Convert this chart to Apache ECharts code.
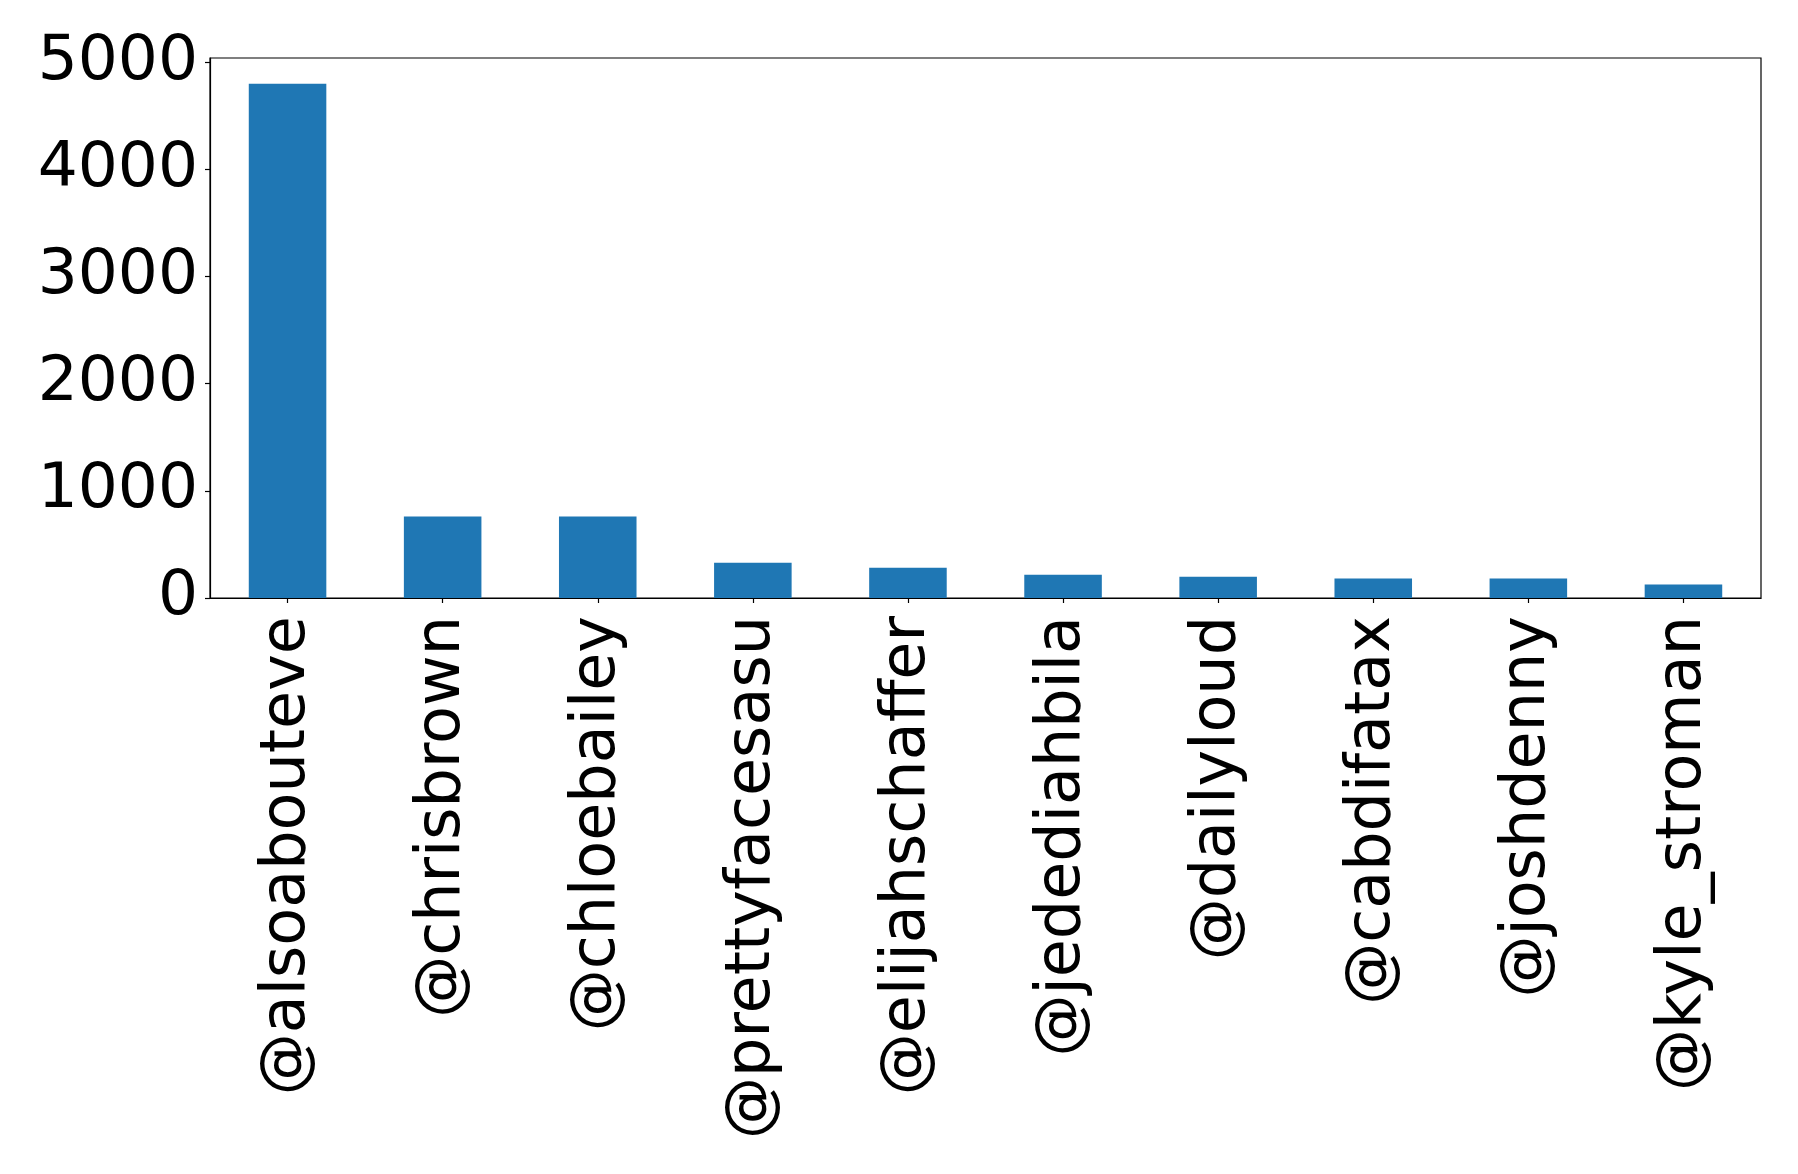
<!DOCTYPE html>
<html>
<head>
<meta charset="utf-8">
<script src="https://cdn.jsdelivr.net/npm/echarts@6/dist/echarts.min.js"></script>
<style>
html,body{margin:0;padding:0;background:#fff;}
#chart{width:1798px;height:1174px;}
</style>
</head>
<body>
<div id="chart"></div>
<script>
const categories = ['@alsoabouteve','@chrisbrown','@chloebailey','@prettyfacesasu','@elijahschaffer','@jedediahbila','@dailyloud','@cabdifatax','@joshdenny','@kyle_stroman'];
const counts = [4800, 760, 760, 330, 283, 218, 199, 181, 181, 125];
const yTicks = [0, 1000, 2000, 3000, 4000, 5000];

const chart = echarts.init(document.getElementById('chart'), null, {renderer: 'canvas'});
const font = 'DejaVu Sans';
chart.setOption({
  animation: false,
  backgroundColor: '#ffffff',
  grid: {
    left: 210, right: 37, top: 58, bottom: 576,
    show: true, borderColor: '#000', borderWidth: 1.2, backgroundColor: 'transparent'
  },
  xAxis: {
    type: 'category',
    data: categories,
    axisLine: {show: true, lineStyle: {color: '#000', width: 1.2}},
    axisTick: {show: true, alignWithLabel: true, length: 5, lineStyle: {color: '#000', width: 1.2}},
    axisLabel: {rotate: 90, margin: 18, color: '#000', fontFamily: font, fontSize: 62, interval: 0}
  },
  yAxis: {
    type: 'value',
    min: 0, max: 5040, interval: 1000,
    splitLine: {show: false},
    axisLine: {show: true, lineStyle: {color: '#000', width: 1.2}},
    axisTick: {show: true, length: 5, lineStyle: {color: '#000', width: 1.2}},
    axisLabel: {
      margin: 12, color: '#000', fontFamily: font, fontSize: 63, showMaxLabel: false,
      formatter: v => (yTicks.indexOf(v) >= 0 ? String(v) : '')
    }
  },
  series: [{
    type: 'bar',
    data: counts,
    barWidth: '50%',
    itemStyle: {color: '#1f77b4'}
  }]
});
</script>
</body>
</html>
